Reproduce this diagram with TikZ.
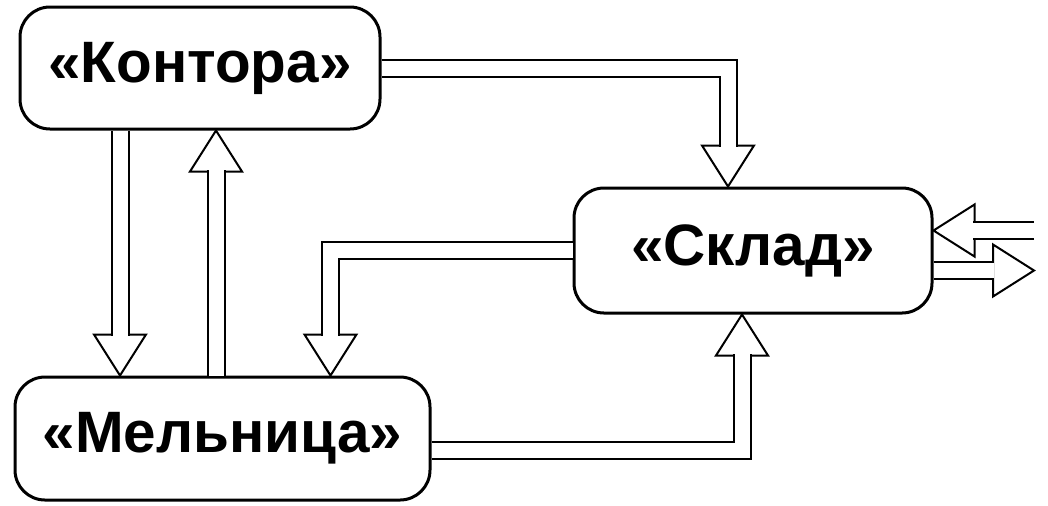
\documentclass[tikz,border=0pt]{standalone}
\usepackage{fontspec}
\setmainfont{Liberation Sans}
\usetikzlibrary{calc}
\newcommand{\pipegap}{7.5pt}
\newcommand{\headlen}{20.5pt}
\newcommand{\headhalf}{13pt}
\tikzset{
    box/.style={draw, line width=1.5pt, rounded corners=15pt, fill=white, font=\fontsize{29.2}{35}\selectfont\bfseries},
    pipe/.style={line width=1pt, double=white, double distance=\pipegap, shorten >=19.9pt},
    tip/.style={draw, line width=1pt, fill=white, line join=miter}
}
\newcommand{\hollowtip}[2]{\draw[tip, shift={#1}, rotate=#2] (0,0) -- (-\headlen,\headhalf) -- (-\headlen,-\headhalf) -- cycle;}

\begin{document}
\begin{tikzpicture}[x=0.5pt, y=-0.5pt]
    \useasboundingbox (0,0) rectangle (1048,505);

    \node[box, minimum width=180pt, minimum height=61pt] (kontora) at (200,68) {«Контора»};
    \node[box, minimum width=179pt, minimum height=62.5pt] (sklad) at (753,250.5) {«Склад»};
    \node[box, minimum width=207.5pt, minimum height=61.5pt] (melnica) at (222.5,438.5) {«Мельница»};

    \coordinate (edge) at (1034,0);
    \coordinate (tipKS) at ([xshift=-12.5pt]sklad.north);
    \coordinate (tipKM) at ([xshift=-40pt]kontora.south |- melnica.north);
    \coordinate (tipMK) at ([xshift=8pt]kontora.south);
    \coordinate (tipSM) at ([xshift=54pt]melnica.north);
    \coordinate (tipMS) at ([xshift=-5.5pt]sklad.south);
    \coordinate (tipIn) at ([yshift=10pt]sklad.east);
    \coordinate (tipOut) at ([yshift=-10pt]sklad.east -| edge);

    % heads first, the pipes cover their bases
    \foreach \p/\a in {tipKS/-90, tipKM/-90, tipMK/90, tipSM/-90, tipMS/90, tipIn/180, tipOut/0}{
        \hollowtip{(\p)}{\a}
    }

    \draw[pipe] (kontora.east) -| (tipKS);
    \draw[pipe] (kontora.south -| tipKM) -- (tipKM);
    \draw[pipe] (melnica.north -| tipMK) -- (tipMK);
    \draw[pipe] (sklad.west) -| (tipSM);
    \draw[pipe] ([yshift=-6pt]melnica.east) -| (tipMS);
    \draw[pipe] (tipIn -| edge) -- (tipIn);
    \draw[pipe] ([yshift=-10pt]sklad.east) -- (tipOut);
\end{tikzpicture}
\end{document}
